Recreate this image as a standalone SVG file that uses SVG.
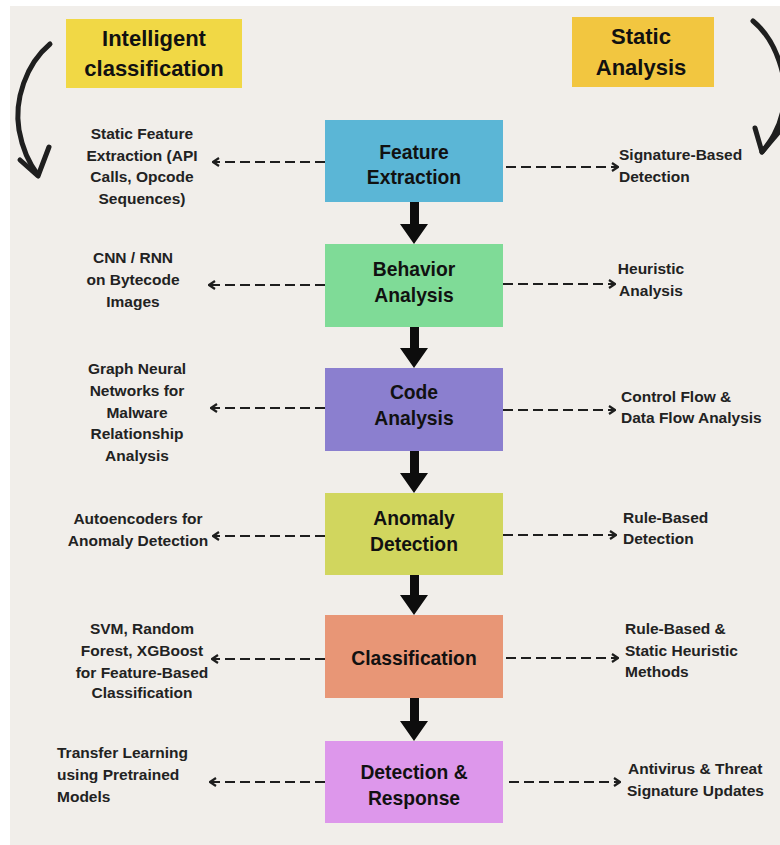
<svg xmlns="http://www.w3.org/2000/svg" width="780" height="845" viewBox="0 0 780 845">
  <style>
    .bg { fill: #f1eeea; }
    .node rect { stroke: none; }
    .node text { font-family: "Liberation Sans", Arial, sans-serif; font-weight: bold; font-size: 19.3px; fill: #111; text-anchor: middle; }
    .tag text { font-family: "Liberation Sans", Arial, sans-serif; font-weight: bold; font-size: 22px; fill: #111; text-anchor: middle; }
    .note { font-family: "Liberation Sans", Arial, sans-serif; font-weight: bold; font-size: 15.5px; fill: #222; }
    .mid { text-anchor: middle; }
    .dash { stroke: #1e1e1e; stroke-width: 2.2; stroke-dasharray: 10 5; fill: none; }
    .flow { fill: #0d0d0d; }
    .curl { stroke: #1f1f1f; stroke-width: 5; fill: none; stroke-linecap: round; stroke-linejoin: round; }
  </style>
  <defs>
    <marker id="tip" viewBox="0 0 10 10" refX="9" refY="5" markerWidth="10" markerHeight="10" markerUnits="userSpaceOnUse" orient="auto">
      <path d="M3,1 L9,5 L3,9" fill="none" stroke="#1e1e1e" stroke-width="2.2" stroke-linejoin="miter"/>
    </marker>
  </defs>

  <rect class="bg" x="10" y="6" width="770" height="839"/>

  <!-- heading tags -->
  <g id="tag-intelligent" class="tag">
    <rect x="66" y="19" width="176" height="69" fill="#f1d845"/>
    <text x="154" y="46">Intelligent</text>
    <text x="154" y="76">classification</text>
  </g>
  <g id="tag-static" class="tag">
    <rect x="572" y="17" width="142" height="70" fill="#f2c640"/>
    <text x="641" y="44">Static</text>
    <text x="641" y="75">Analysis</text>
  </g>

  <!-- hand-drawn curved arrows -->
  <g id="curls">
    <path class="curl" d="M50,44 C26,64 14,100 19,130 C23,152 31,166 38,175"/>
    <path class="curl" d="M20,160 L38,176 L49,147"/>
    <path class="curl" d="M753,21 C776,40 790,80 783,110 C779,130 770,142 762,152"/>
    <path class="curl" d="M755,128 L762,152 L784,126"/>
  </g>

  <!-- pipeline stages -->
  <g id="feature-extraction" class="node">
    <rect x="325" y="120" width="178" height="82" fill="#5bb6d6"/>
    <text x="414" y="159">Feature</text>
    <text x="414" y="184">Extraction</text>
  </g>
  <g id="behavior-analysis" class="node">
    <rect x="325" y="244" width="178" height="83" fill="#7fdb97"/>
    <text x="414" y="276">Behavior</text>
    <text x="414" y="302">Analysis</text>
  </g>
  <g id="code-analysis" class="node">
    <rect x="325" y="368" width="178" height="83" fill="#8b7fcf"/>
    <text x="414" y="399">Code</text>
    <text x="414" y="425">Analysis</text>
  </g>
  <g id="anomaly-detection" class="node">
    <rect x="325" y="493" width="178" height="82" fill="#d1d65e"/>
    <text x="414" y="525">Anomaly</text>
    <text x="414" y="551">Detection</text>
  </g>
  <g id="classification" class="node">
    <rect x="325" y="615" width="178" height="83" fill="#e89676"/>
    <text x="414" y="665">Classification</text>
  </g>
  <g id="detection-response" class="node">
    <rect x="325" y="741" width="178" height="82" fill="#dd97eb"/>
    <text x="414" y="779">Detection &amp;</text>
    <text x="414" y="805">Response</text>
  </g>

  <!-- side notes: intelligent classification -->
  <g id="ml-feature" class="note mid">
    <text x="142" y="139">Static Feature</text>
    <text x="142" y="161">Extraction (API</text>
    <text x="142" y="182">Calls, Opcode</text>
    <text x="142" y="204">Sequences)</text>
  </g>
  <g id="ml-behavior" class="note mid">
    <text x="133" y="263">CNN / RNN</text>
    <text x="133" y="285">on Bytecode</text>
    <text x="133" y="307">Images</text>
  </g>
  <g id="ml-code" class="note mid">
    <text x="137" y="374">Graph Neural</text>
    <text x="137" y="396">Networks for</text>
    <text x="137" y="418">Malware</text>
    <text x="137" y="439">Relationship</text>
    <text x="137" y="461">Analysis</text>
  </g>
  <g id="ml-anomaly" class="note mid">
    <text x="138" y="524">Autoencoders for</text>
    <text x="138" y="546">Anomaly Detection</text>
  </g>
  <g id="ml-classification" class="note mid">
    <text x="142" y="634">SVM, Random</text>
    <text x="142" y="656">Forest, XGBoost</text>
    <text x="142" y="678">for Feature-Based</text>
    <text x="142" y="698">Classification</text>
  </g>
  <g id="ml-response" class="note">
    <text x="57" y="758">Transfer Learning</text>
    <text x="57" y="780">using Pretrained</text>
    <text x="57" y="802">Models</text>
  </g>

  <!-- side notes: static analysis -->
  <g id="sa-feature" class="note">
    <text x="619" y="160">Signature-Based</text>
    <text x="619" y="182">Detection</text>
  </g>
  <g id="sa-behavior" class="note mid">
    <text x="651" y="274">Heuristic</text>
    <text x="651" y="296">Analysis</text>
  </g>
  <g id="sa-code" class="note">
    <text x="621" y="402">Control Flow &amp;</text>
    <text x="621" y="423">Data Flow Analysis</text>
  </g>
  <g id="sa-anomaly" class="note">
    <text x="623" y="523">Rule-Based</text>
    <text x="623" y="544">Detection</text>
  </g>
  <g id="sa-classification" class="note">
    <text x="625" y="634">Rule-Based &amp;</text>
    <text x="625" y="656">Static Heuristic</text>
    <text x="625" y="677">Methods</text>
  </g>
  <g id="sa-response" class="note">
    <text x="628" y="774">Antivirus &amp; Threat</text>
    <text x="627" y="796">Signature Updates</text>
  </g>

  <!-- connectors -->
  <g id="connectors">
    <!-- main flow -->
    <path class="flow" d="M410,202 H419 V224 H428 L414,244 L400,224 H410 Z"/>
    <path class="flow" d="M410,327 H419 V348 H428 L414,368 L400,348 H410 Z"/>
    <path class="flow" d="M410,451 H419 V473 H428 L414,493 L400,473 H410 Z"/>
    <path class="flow" d="M410,575 H419 V595 H428 L414,615 L400,595 H410 Z"/>
    <path class="flow" d="M410,698 H419 V721 H428 L414,741 L400,721 H410 Z"/>

    <!-- to the left -->
    <line class="dash" x1="325" y1="162" x2="213" y2="162" marker-end="url(#tip)"/>
    <line class="dash" x1="325" y1="285" x2="209" y2="285" marker-end="url(#tip)"/>
    <line class="dash" x1="325" y1="408" x2="211" y2="408" marker-end="url(#tip)"/>
    <line class="dash" x1="325" y1="536" x2="213" y2="536" marker-end="url(#tip)"/>
    <line class="dash" x1="325" y1="659" x2="212" y2="659" marker-end="url(#tip)"/>
    <line class="dash" x1="325" y1="782" x2="210" y2="782" marker-end="url(#tip)"/>

    <!-- to the right -->
    <line class="dash" x1="506" y1="167" x2="618" y2="167" marker-end="url(#tip)"/>
    <line class="dash" x1="503" y1="284" x2="615" y2="284" marker-end="url(#tip)"/>
    <line class="dash" x1="503" y1="410" x2="615" y2="410" marker-end="url(#tip)"/>
    <line class="dash" x1="503" y1="535" x2="616" y2="535" marker-end="url(#tip)"/>
    <line class="dash" x1="506" y1="658" x2="618" y2="658" marker-end="url(#tip)"/>
    <line class="dash" x1="509" y1="782" x2="620" y2="782" marker-end="url(#tip)"/>
  </g>
</svg>
